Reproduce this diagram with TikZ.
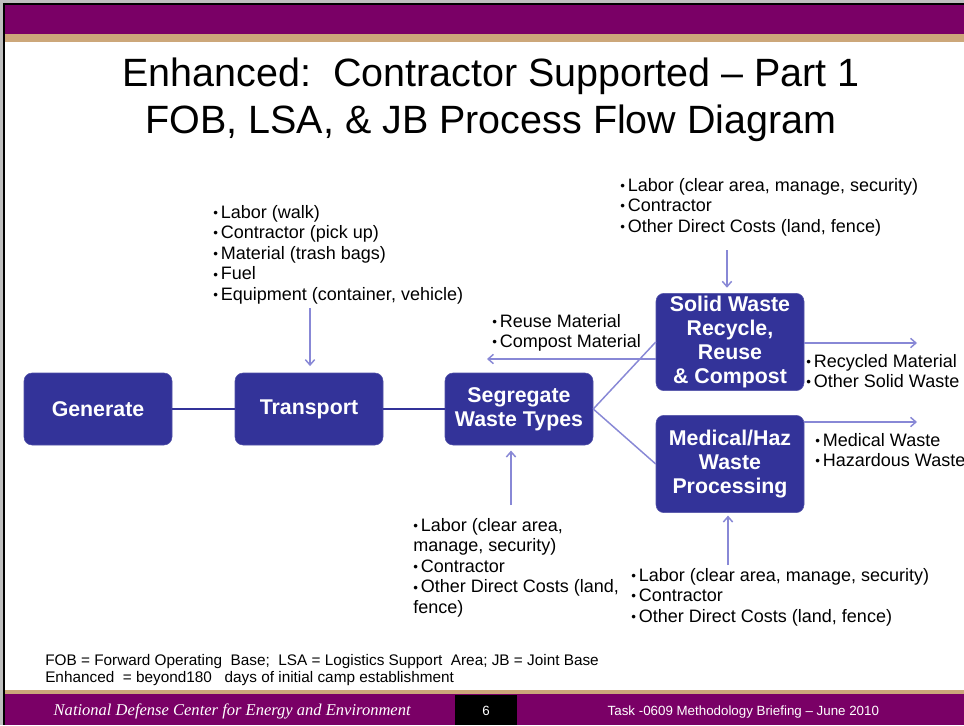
\documentclass[tikz,border=0pt]{standalone}
\usepackage{fontspec}
\setmainfont{Liberation Sans}
\newfontfamily\footserif{Liberation Serif}
\usetikzlibrary{arrows.meta}
\definecolor{slidepurple}{RGB}{122,0,102}
\definecolor{slidetan}{RGB}{204,167,122}
\definecolor{boxblue}{RGB}{51,51,153}
\definecolor{flowblue}{RGB}{136,136,214}
\newcommand{\bul}{\raisebox{0.05em}{\fontsize{10}{10}\selectfont\textbullet}\,}
\begin{document}
\begin{tikzpicture}[x=0.75pt,y=-0.75pt,
    >={Straight Barb[length=4pt,width=7pt]},
    procbox/.style={draw=boxblue!85!white, fill=boxblue, rounded corners=6pt, text=white,
      font=\bfseries\fontsize{16}{18}\selectfont, align=center,
      minimum width=111pt, minimum height=54pt, inner sep=2pt},
    notes/.style={anchor=north west, inner sep=0pt, align=left, font=\fontsize{13.5}{15.4}\selectfont},
    link/.style={boxblue, line width=1.1pt},
    flow/.style={flowblue, line width=1.1pt}]
    \useasboundingbox (0,0) rectangle (964,725);
    \fill[white] (0,0) rectangle (964,725);
    \fill[black!25] (0,0) rectangle (964,3);
    \fill[black!25] (0,0) rectangle (3,725);
    \fill[black] (3,3) rectangle (964,5);
    \fill[black] (3,3) rectangle (5,725);
    \fill[slidepurple] (5,5) rectangle (964,34);
    \fill[slidetan] (5,34) rectangle (964,42);
    \fill[slidetan] (5,690) rectangle (964,694);
    \fill[slidepurple] (5,694) rectangle (964,725);
    \fill[black] (455,695) rectangle (517,725);

    \node[align=center, font=\fontsize{29.6}{35}\selectfont] (title) at (491,100) {Enhanced:\ \ Contractor Supported – Part 1\\FOB, LSA, \& JB Process Flow Diagram};

    \node[procbox] (generate) at (98,409) {Generate};
    \node[procbox] (transport) at (309,409) {Transport};
    \node[procbox] (segregate) at (519,409) {Segregate\\Waste Types};
    \node[procbox, minimum height=73pt] (solid) at (730,342) {Solid Waste\\Recycle,\\Reuse\\\& Compost};
    \node[procbox, minimum height=73pt] (medical) at (730,464) {Medical/Haz\\Waste\\Processing};

    \node[notes] (tinputs) at (213,205) {\bul Labor (walk)\\\bul Contractor (pick up)\\\bul Material (trash bags)\\\bul Fuel\\\bul Equipment (container, vehicle)};
    \node[notes] (rinputs) at (620,178) {\bul Labor (clear area, manage, security)\\\bul Contractor\\\bul Other Direct Costs (land, fence)};
    \node[notes] (reuse) at (492,314) {\bul Reuse Material\\\bul Compost Material};
    \node[notes] (recycled) at (806,354) {\bul Recycled Material\\\bul Other Solid Waste};
    \node[notes] (hazwaste) at (815,433) {\bul Medical Waste\\\bul Hazardous Waste};
    \node[notes] (sinputs) at (413,518) {\bul Labor (clear area,\\manage, security)\\\bul Contractor\\\bul Other Direct Costs (land,\\fence)};
    \node[notes] (hinputs) at (631,568) {\bul Labor (clear area, manage, security)\\\bul Contractor\\\bul Other Direct Costs (land, fence)};

    \coordinate (tfeed) at (310,308);
    \coordinate (rfeed) at (727,250);
    \coordinate (sfeed) at (511,505);
    \coordinate (hfeed) at (728,565);
    \coordinate (reuseout) at (487,359);
    \coordinate (recout) at (917,343);
    \coordinate (hazout) at (917,422);

    \draw[link] (generate) -- (transport);
    \draw[link] (transport) -- (segregate);
    \draw[flow] (segregate.east) -- (solid.west);
    \draw[flow] (segregate.east) -- (medical.west);
    \draw[flow,->,shorten >=5pt] (tfeed) -- (tfeed |- transport.north);
    \draw[flow,->,shorten >=4pt] (rfeed) -- (rfeed |- solid.north);
    \draw[flow,->,shorten >=4pt] (sfeed) -- (sfeed |- segregate.south);
    \draw[flow,->,shorten >=2pt] (hfeed) -- (hfeed |- medical.south);
    \draw[flow,->] (solid.west |- reuseout) -- (reuseout);
    \draw[flow,->] (solid.east |- recout) -- (recout);
    \draw[flow,->] (medical.east |- hazout) -- (hazout);

    \node[notes, font=\fontsize{11.5}{12.75}\selectfont] (abbrev) at (45,654) {FOB = Forward Operating\ \ Base;\ \ LSA = Logistics Support\ \ Area; JB = Joint Base\\Enhanced\ \ = beyond180\ \ \ days of initial camp establishment};
    \node[anchor=west, text=white, font=\footserif\itshape\fontsize{12.4}{14}\selectfont] (center) at (49,711) {National Defense Center for Energy and Environment};
    \node[text=white, font=\fontsize{10}{12}\selectfont] (pageno) at (486,711) {6};
    \node[anchor=west, text=white, font=\fontsize{10}{12}\selectfont] (task) at (603,712) {Task -0609 Methodology Briefing – June 2010};
\end{tikzpicture}
\end{document}
